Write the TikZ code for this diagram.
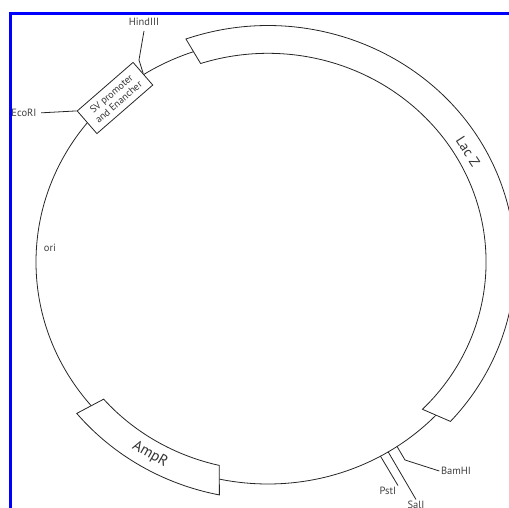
\documentclass[tikz,border=0pt]{standalone}
\usepackage{fontspec}
\setmainfont{PT Sans}
\usetikzlibrary{positioning}

\begin{document}
\begin{tikzpicture}[x=1pt, y=1pt,
    gene/.style={draw=black!85, fill=white, line width=0.8pt},
    lbl/.style={font=\fontsize{10.5}{12}\selectfont, text=black!75, inner sep=1.5pt},
    cut/.style={draw=black!85, line width=0.8pt},
    frame/.style={draw=blue, line width=3pt}
]
\useasboundingbox (-268,-246) rectangle (241,262);
\draw[frame] (-257,-250) -- (-257,248) -- (245,248);

% plasmid ring, in units of its two radii
\begin{scope}[x=232pt, y=222pt]
\draw[cut] (0,0) circle[radius=1];
\draw[gene] (109.4:1.065) arc[start angle=109.4, end angle=-42.4, radius=1.065]
    -- (-44.9:0.94) arc[start angle=-44.9, end angle=108, radius=0.94] -- cycle;
\draw[gene] (219.6:1.07) arc[start angle=219.6, end angle=258.7, radius=1.07]
    -- (257.1:0.94) arc[start angle=257.1, end angle=221.1, radius=0.94] -- cycle;
\node[font=\fontsize{14}{16}\selectfont, text=black!80, rotate=-57] (lacz) at (30:0.995) {Lac Z};
\node[font=\fontsize{15}{17}\selectfont, text=black!80, rotate=-30] (ampr) at (239.6:1.005) {AmpR};
\coordinate (pst-site) at (-61:1);
\coordinate (sal-site) at (-58.8:1);
\coordinate (bam-site) at (-56.2:1);
\end{scope}

\node[gene, rotate=41, minimum width=74pt, minimum height=30pt, inner sep=0pt,
      align=center, font=\fontsize{10}{11}\selectfont, text=black!80] (sv) at (-153,164)
      {SV promoter\\and Enancher};

% restriction sites
\node[lbl] (hind) at (-124,240.5) {HindIII};
\node[lbl] (eco) at (-244,149) {EcoRI};
\node[lbl] (ori) at (-218,14) {ori};
\node[lbl] (pst) at (120,-229) {PstI};
\node[lbl] (sal) at (148,-243) {SalI};
\node[lbl] (bam) at (188,-209) {BamHI};

\coordinate (hind-kink) at (-129,202);
\coordinate (bam-kink) at (137,-198);

\draw[cut] ([yshift=-4pt]hind.south) -- (hind-kink) -- (sv.east);
\draw[cut, shorten <=3pt] (eco.east) -- (sv.north west);
\draw[cut] (pst-site) -- (pst.north east);
\draw[cut] (sal-site) -- (sal.north);
\draw[cut] (bam-site) -- (bam-kink) -- (bam.west);
\end{tikzpicture}
\end{document}
